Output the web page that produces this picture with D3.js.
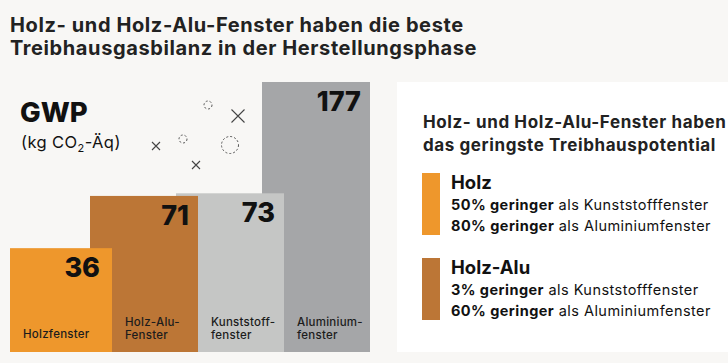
<!DOCTYPE html>
<html>
<head>
<meta charset="utf-8">
<script src="https://cdn.jsdelivr.net/npm/d3@7"></script>
<style>
  body { margin: 0; background: #f8f7f5; }
  svg { display: block; font-family: Inter, "Noto Sans", sans-serif; }
</style>
</head>
<body>
<svg id="chart" width="728" height="363"></svg>
<script>
// data
const categories = ["Holzfenster", "Holz-Alu-Fenster", "Kunststofffenster", "Aluminiumfenster"];
const labelLines = [["Holzfenster"], ["Holz-Alu-", "Fenster"], ["Kunststoff-", "fenster"], ["Aluminium-", "fenster"]];
const gwp = [36, 71, 73, 177];
const barColors = ["#ee972c", "#bc7636", "#c5c6c5", "#a5a6a8"];

const legendNames = ["Holz", "Holz-Alu"];
const legendLines = [
  [["50% geringer", " als Kunststofffenster"], ["80% geringer", " als Aluminiumfenster"]],
  [["3% geringer", " als Kunststofffenster"], ["60% geringer", " als Aluminiumfenster"]]
];

const svg = d3.select("#chart");

// title
const title = svg.append("text")
  .attr("x", 10).attr("y", 32)
  .attr("font-size", 20).attr("font-weight", 700).attr("fill", "#222")
  .attr("letter-spacing", 0.6);
title.append("tspan").attr("x", 10).text("Holz- und Holz-Alu-Fenster haben die beste");
title.append("tspan").attr("x", 10).attr("dy", 23).text("Treibhausgasbilanz in der Herstellungsphase");

///////////////////// bars /////////////////////
const base = 352;
const left = 10;
const xScale = d3.scaleBand()
  .domain(categories)
  .range([26, 370])
  .paddingInner(0);

// heights are compressed in the original, pow scale fits them
const yScale = d3.scalePow().exponent(0.6)
  .domain([0, 177])
  .range([base, 82]);

const overlap = 22;
const bars = categories.map((c, i) => ({ c, v: gwp[i], col: barColors[i], lines: labelLines[i], i }));
const barX = d => d.i === 0 ? left : xScale(d.c) - overlap;
const visX = d => d.i === 0 ? left : xScale(d.c);
const rightX = d => xScale(d.c) + xScale.bandwidth();

// draw back to front so earlier bars cover the next one
svg.append("g").selectAll("rect")
  .data(bars.slice().reverse())
  .join("rect")
  .attr("x", barX)
  .attr("y", d => yScale(d.v))
  .attr("width", d => rightX(d) - barX(d))
  .attr("height", d => base - yScale(d.v))
  .attr("fill", d => d.col);

svg.append("g").selectAll("text")
  .data(bars)
  .join("text")
  .attr("x", d => rightX(d) - (d.i === 0 ? 12 : 9))
  .attr("y", d => yScale(d.v) + 29)
  .attr("text-anchor", "end")
  .attr("font-size", 27).attr("font-weight", 800).attr("fill", "#111")
  .text(d => d.v);

const catLabels = svg.append("g").selectAll("text")
  .data(bars)
  .join("text")
  .attr("y", d => d.lines.length === 1 ? 338 : 326)
  .attr("font-size", 11.5).attr("font-weight", 500).attr("fill", "#1c1c1c")
  .attr("letter-spacing", 0.25);
catLabels.selectAll("tspan")
  .data(d => d.lines.map((l, k) => ({ l, k, x: visX(d) + 13 })))
  .join("tspan")
  .attr("x", d => d.x)
  .attr("dy", d => d.k ? 12.5 : 0)
  .text(d => d.l);

///////////////////// GWP label /////////////////////
svg.append("text").attr("x", 20).attr("y", 122)
  .attr("font-size", 27.5).attr("font-weight", 800).attr("fill", "#111").text("GWP");
const unit = svg.append("text").attr("x", 21).attr("y", 148)
  .attr("font-size", 16.5).attr("fill", "#111").attr("letter-spacing", 0.4);
unit.append("tspan").text("(kg CO");
unit.append("tspan").attr("font-size", 11).attr("dy", 4).text("2");
unit.append("tspan").attr("dy", -4).text("-Äq)");

// decoration
const circles = [[208, 105, 4], [183, 139, 4], [230, 145, 8.5]];
const crosses = [[238, 116, 6.5], [156, 146, 4], [196, 165, 4]];
svg.append("g").selectAll("circle").data(circles).join("circle")
  .attr("cx", d => d[0]).attr("cy", d => d[1]).attr("r", d => d[2])
  .attr("fill", "none").attr("stroke", "#555").attr("stroke-width", 1)
  .attr("stroke-dasharray", "2,2");
svg.append("g").selectAll("path").data(crosses).join("path")
  .attr("d", d => `M${d[0]-d[2]},${d[1]-d[2]}L${d[0]+d[2]},${d[1]+d[2]}M${d[0]+d[2]},${d[1]-d[2]}L${d[0]-d[2]},${d[1]+d[2]}`)
  .attr("stroke", "#444").attr("stroke-width", 1.1);

///////////////////// right panel /////////////////////
svg.append("rect").attr("x", 397).attr("y", 82).attr("width", 340).attr("height", 270).attr("fill", "#fff");

const ptitle = svg.append("text").attr("x", 423).attr("y", 128)
  .attr("font-size", 17).attr("font-weight", 700).attr("fill", "#222")
  .attr("letter-spacing", 0.6);
ptitle.append("tspan").attr("x", 423).text("Holz- und Holz-Alu-Fenster haben");
ptitle.append("tspan").attr("x", 423).attr("dy", 23).text("das geringste Treibhauspotential");

const legend = svg.append("g").selectAll("g")
  .data(legendNames)
  .join("g")
  .attr("transform", (d, i) => `translate(0,${i * 85})`);

legend.append("rect")
  .attr("x", 422).attr("y", 173).attr("width", 18).attr("height", 62)
  .attr("fill", (d, i) => barColors[i]);

legend.append("text").attr("x", 451).attr("y", 189)
  .attr("font-size", 18.5).attr("font-weight", 700).attr("fill", "#111")
  .text(d => d);

legend.each(function(d, i) {
  legendLines[i].forEach((ln, k) => {
    const t = d3.select(this).append("text")
      .attr("x", 451).attr("y", 210 + k * 21)
      .attr("font-size", 14.5).attr("fill", "#111")
      .attr("letter-spacing", 0.45);
    t.append("tspan").attr("font-weight", 700).text(ln[0]);
    t.append("tspan").text(ln[1]);
  });
});
</script>
</body>
</html>
